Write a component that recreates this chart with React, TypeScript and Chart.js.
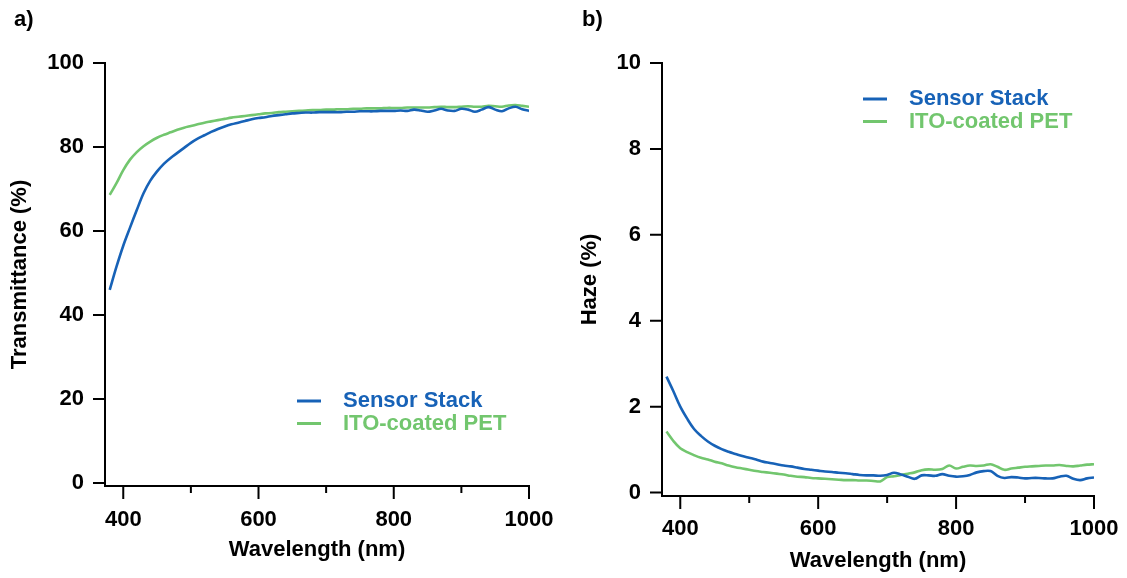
import React, { useEffect, useRef } from 'react';
import { Chart, registerables } from 'chart.js';

Chart.register(...registerables);

// ---------------- data ----------------
const wavelengths = [
  380, 390, 400, 410, 420, 430, 440, 450, 460, 470, 480, 490, 500, 510, 520, 530,
  540, 550, 560, 570, 580, 590, 600, 610, 620, 630, 640, 650, 660, 670, 680, 690,
  700, 710, 720, 730, 740, 750, 760, 770, 780, 790, 800, 810, 820, 830, 840, 850,
  860, 870, 880, 890, 900, 910, 920, 930, 940, 950, 960, 970, 980, 990, 1000,
];

const transSensorStack = [
  46.0, 51.5, 56.5, 60.8, 65.0, 69.0, 72.0, 74.2, 76.0, 77.4, 78.6, 79.8, 81.0, 82.0, 82.8, 83.6,
  84.3, 84.9, 85.4, 85.8, 86.2, 86.6, 86.9, 87.1, 87.4, 87.6, 87.8, 88.0, 88.1, 88.2, 88.2, 88.3,
  88.3, 88.3, 88.3, 88.4, 88.4, 88.5, 88.5, 88.5, 88.6, 88.6, 88.6, 88.7, 88.6, 88.9, 88.7, 88.4,
  88.7, 89.1, 88.7, 88.6, 89.1, 88.9, 88.4, 88.9, 89.5, 88.9, 88.5, 89.2, 89.6, 89.0, 88.6,
];

const transItoPet = [
  68.6, 71.4, 74.5, 77.0, 78.8, 80.2, 81.3, 82.2, 82.9, 83.5, 84.1, 84.6, 85.0, 85.4, 85.8, 86.1,
  86.4, 86.7, 87.0, 87.2, 87.4, 87.6, 87.8, 88.0, 88.1, 88.3, 88.4, 88.5, 88.6, 88.7, 88.8, 88.8,
  88.9, 88.9, 89.0, 89.0, 89.1, 89.1, 89.2, 89.2, 89.2, 89.3, 89.3, 89.3, 89.4, 89.4, 89.4, 89.4,
  89.5, 89.6, 89.5, 89.5, 89.6, 89.7, 89.6, 89.6, 89.8, 89.7, 89.6, 89.9, 90.0, 89.8, 89.6,
];

const hazeSensorStack = [
  2.70, 2.36, 2.00, 1.72, 1.48, 1.32, 1.19, 1.09, 1.01, 0.95, 0.90, 0.85, 0.81, 0.77, 0.72, 0.69,
  0.66, 0.63, 0.61, 0.58, 0.55, 0.53, 0.51, 0.49, 0.48, 0.46, 0.45, 0.43, 0.41, 0.40, 0.40, 0.39,
  0.41, 0.46, 0.42, 0.37, 0.32, 0.40, 0.40, 0.39, 0.43, 0.39, 0.37, 0.38, 0.41, 0.47, 0.50, 0.50,
  0.39, 0.34, 0.36, 0.35, 0.33, 0.34, 0.34, 0.33, 0.33, 0.37, 0.39, 0.32, 0.29, 0.33, 0.35,
];

const hazeItoPet = [
  1.42, 1.20, 1.03, 0.94, 0.87, 0.81, 0.77, 0.72, 0.68, 0.63, 0.59, 0.56, 0.53, 0.50, 0.48, 0.46,
  0.44, 0.42, 0.39, 0.37, 0.36, 0.34, 0.33, 0.32, 0.31, 0.30, 0.29, 0.29, 0.28, 0.28, 0.27, 0.26,
  0.36, 0.38, 0.41, 0.44, 0.47, 0.52, 0.54, 0.53, 0.55, 0.63, 0.56, 0.60, 0.63, 0.62, 0.63, 0.66,
  0.60, 0.53, 0.56, 0.58, 0.60, 0.61, 0.62, 0.63, 0.63, 0.64, 0.62, 0.61, 0.63, 0.65, 0.66,
];

const seriesNames = ['Sensor Stack', 'ITO-coated PET'];
const seriesColors = ['#1762b7', '#72c66e'];

const xMajorTicks = [400, 600, 800, 1000];
const xMinorTicks = [500, 700, 900];
const transTicks = [0, 20, 40, 60, 80, 100];
const hazeTicks = [0, 2, 4, 6, 8, 10];

const FONT = "'Liberation Sans', Arial, sans-serif";

// ---------------- plugin: axes, ticks & legend ----------------
const decorPlugin = {
  id: 'decor',
  afterDatasetsDraw(chart: any, _args: any, opts: any) {
    const { ctx } = chart;
    const { left, right, top, bottom } = chart.chartArea;
    const xs = chart.scales.x;
    const ys = chart.scales.y;
    ctx.save();
    ctx.strokeStyle = '#000';
    ctx.lineWidth = 2;
    ctx.lineCap = 'square';
    ctx.lineJoin = 'miter';
    ctx.beginPath();
    ctx.moveTo(left, top);
    ctx.lineTo(left, bottom);
    ctx.lineTo(right, bottom);
    ctx.stroke();
    ctx.lineCap = 'butt';
    ctx.beginPath();
    for (const v of xMajorTicks) {
      const px = xs.getPixelForValue(v);
      ctx.moveTo(px, bottom);
      ctx.lineTo(px, bottom + 13);
    }
    for (const v of xMinorTicks) {
      const px = xs.getPixelForValue(v);
      ctx.moveTo(px, bottom);
      ctx.lineTo(px, bottom + 7);
    }
    for (const v of opts.yTicks) {
      const py = ys.getPixelForValue(v);
      ctx.moveTo(left, py);
      ctx.lineTo(left - 12, py);
    }
    ctx.stroke();

    // legend
    ctx.font = `bold 22px ${FONT}`;
    ctx.textBaseline = 'middle';
    ctx.textAlign = 'left';
    chart.data.datasets.forEach((ds: any, i: number) => {
      const y = opts.legendY + i * 22.5;
      ctx.strokeStyle = ds.borderColor;
      ctx.lineWidth = 3;
      ctx.beginPath();
      ctx.moveTo(opts.legendX, y);
      ctx.lineTo(opts.legendX + 24, y);
      ctx.stroke();
      ctx.fillStyle = ds.borderColor;
      ctx.fillText(ds.label, opts.legendX + 46, y);
    });
    ctx.restore();
  },
};

type PanelProps = {
  width: number;
  height: number;
  chartLeft: number;
  chartRight: number;
  chartTop: number;
  chartBottom: number;
  xMin: number;
  yMin: number;
  yMax: number;
  yTicks: number[];
  yTitle: string;
  yTitlePad: number;
  xTitlePad: number;
  xTickPad: number;
  legendX: number;
  legendY: number;
  series: number[][];
};

function Panel(p: PanelProps) {
  const ref = useRef<HTMLCanvasElement>(null);
  useEffect(() => {
    if (!ref.current) return;
    const datasets = p.series.map((vals, i) => ({
      label: seriesNames[i],
      data: wavelengths.map((w, k) => ({ x: w, y: vals[k] })),
      borderColor: seriesColors[i],
      backgroundColor: seriesColors[i],
      borderWidth: 2.6,
      pointRadius: 0,
      tension: 0.35,
      fill: false,
    }));
    const tickFont = { family: FONT, weight: 'bold' as const, size: 22 };
    const chart = new Chart(ref.current, {
      type: 'line',
      data: { datasets },
      plugins: [decorPlugin],
      options: {
        animation: false,
        responsive: false,
        devicePixelRatio: 1,
        layout: {
          padding: { left: 0, top: p.chartTop, right: p.width - p.chartRight, bottom: 0 },
        },
        plugins: {
          legend: { display: false },
          tooltip: { enabled: false },
          decor: { yTicks: p.yTicks, legendX: p.legendX, legendY: p.legendY },
        } as any,
        scales: {
          x: {
            type: 'linear',
            min: p.xMin,
            max: 1000,
            grid: { display: false, drawTicks: false },
            border: { display: false },
            afterBuildTicks: (s: any) => {
              s.ticks = xMajorTicks.map((v) => ({ value: v }));
            },
            afterFit: (s: any) => {
              s.height = p.height - p.chartBottom;
              s.paddingLeft = 0;
              s.paddingRight = 0;
            },
            ticks: {
              color: '#000',
              font: tickFont,
              padding: p.xTickPad,
              maxRotation: 0,
              autoSkip: false,
              callback: (v: any) => String(v),
            },
            title: {
              display: true,
              text: 'Wavelength (nm)',
              color: '#000',
              font: tickFont,
              padding: { top: 0, bottom: p.xTitlePad },
            },
          },
          y: {
            type: 'linear',
            min: p.yMin,
            max: p.yMax,
            grid: { display: false, drawTicks: false },
            border: { display: false },
            afterBuildTicks: (s: any) => {
              s.ticks = p.yTicks.map((v) => ({ value: v }));
            },
            afterFit: (s: any) => {
              s.width = p.chartLeft;
              s.paddingTop = 0;
              s.paddingBottom = 0;
            },
            ticks: {
              color: '#000',
              font: tickFont,
              padding: 21,
              autoSkip: false,
              callback: (v: any) => String(v),
            },
            title: {
              display: true,
              text: p.yTitle,
              color: '#000',
              font: tickFont,
              padding: { top: p.yTitlePad, bottom: 0 },
            },
          },
        },
      } as any,
    });
    return () => chart.destroy();
  }, []);
  return <canvas ref={ref} width={p.width} height={p.height} style={{ display: 'block' }} />;
}

const labelStyle: React.CSSProperties = {
  position: 'absolute',
  fontFamily: FONT,
  fontWeight: 'bold',
  fontSize: 22,
  lineHeight: '22px',
  color: '#000',
};

export default function App() {
  return (
    <div style={{ position: 'fixed', left: 0, top: 0, width: 1127, height: 578, background: '#fff', overflow: 'hidden' }}>
      <div style={{ position: 'absolute', left: 0, top: 0 }}>
        <Panel
          width={560}
          height={578}
          chartLeft={105}
          chartRight={529}
          chartTop={63}
          chartBottom={486}
          xMin={373}
          yMin={-0.7}
          yMax={100}
          yTicks={transTicks}
          yTitle="Transmittance (%)"
          yTitlePad={7}
          xTitlePad={15}
          xTickPad={21}
          legendX={297}
          legendY={401}
          series={[transSensorStack, transItoPet]}
        />
      </div>
      <div style={{ position: 'absolute', left: 560, top: 0 }}>
        <Panel
          width={567}
          height={578}
          chartLeft={102}
          chartRight={534}
          chartTop={63}
          chartBottom={496}
          xMin={373.5}
          yMin={-0.08}
          yMax={10}
          yTicks={hazeTicks}
          yTitle="Haze (%)"
          yTitlePad={17}
          xTitlePad={4}
          xTickPad={20}
          legendX={303}
          legendY={99}
          series={[hazeSensorStack, hazeItoPet]}
        />
      </div>
      <div style={{ ...labelStyle, left: 14, top: 8 }}>a)</div>
      <div style={{ ...labelStyle, left: 582, top: 8 }}>b)</div>
    </div>
  );
}
